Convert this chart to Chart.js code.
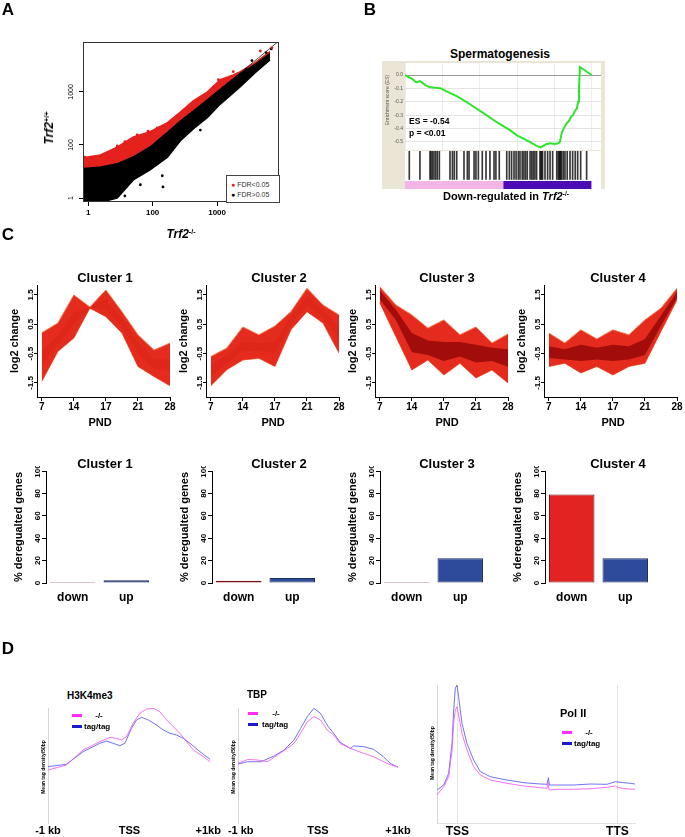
<!DOCTYPE html>
<html>
<head>
<meta charset="utf-8">
<script src="https://cdn.jsdelivr.net/npm/chart.js@4.4.1/dist/chart.umd.min.js"></script>
<style>
body { margin: 0; background: #fff; }
#fig { position: relative; width: 685px; height: 837px; overflow: hidden; font-family: "Liberation Sans", Arial, sans-serif; }
#fig canvas { position: absolute; }
.t { position: absolute; white-space: nowrap; line-height: 1; z-index: 2; }
.t sup { font-size: 0.6em; vertical-align: 0.55em; line-height: 0; }
.dash { position: absolute; height: 3px; width: 10px; z-index: 2; }
</style>
</head>
<body>
<div id="fig"></div>
<script>
// ---- A: expression scatter (axis units = tick positions: 0 -> "1", 1 -> "100", 2 -> "1000")
const scatterTicks = ['1', '100', '1000'];
const bandX       = [-0.08, 0.19, 0.45, 0.70, 0.96, 1.23, 1.43, 1.63, 1.85, 2.05, 2.25, 2.36, 2.59, 2.82];
const redTop      = [0.76, 0.81, 0.96, 1.15, 1.25, 1.42, 1.62, 1.83, 2.00, 2.23, 2.32, 2.38, 2.55, 2.76];
const blackTop    = [0.57, 0.60, 0.66, 0.79, 0.98, 1.26, 1.47, 1.66, 1.87, 2.07, 2.26, 2.36, 2.55, 2.76];
const blackBottom = [-0.08, -0.08, 0.0, 0.34, 0.53, 0.77, 1.08, 1.30, 1.52, 1.77, 1.98, 2.10, 2.36, 2.60];
const redPoints = [[-0.05, 0.77], [0.06, 0.76], [0.19, 0.79], [0.31, 0.77], [0.45, 0.98], [0.57, 1.06], [0.76, 1.19],
  [0.93, 1.26], [1.07, 1.32], [1.38, 1.53], [1.54, 1.66], [1.74, 1.87], [1.94, 2.09], [2.02, 2.23], [2.25, 2.38],
  [2.67, 2.77], [2.85, 2.83]];
const blackPoints = [[1.74, 1.28], [1.15, 0.42], [1.16, 0.21], [0.99, 0.66], [1.30, 1.04], [0.81, 0.25], [0.57, 0.04],
  [2.45, 2.43], [2.54, 2.59], [2.76, 2.74], [2.84, 2.81]];

// ---- B: GSEA running enrichment score and hit positions (rank in % of list)
const esRank  = [0, 4, 6, 8, 11, 13, 16, 19, 22, 28, 35, 42, 50, 56, 60, 66.8, 70, 72.5, 74, 76, 78, 80, 82, 83, 84, 85,
  86.6, 88, 89, 90, 91, 92, 92.8, 93.2, 93.7, 100];
const esScore = [0, -0.03, -0.055, -0.045, -0.075, -0.09, -0.095, -0.098, -0.12, -0.16, -0.22, -0.285, -0.36, -0.41,
  -0.45, -0.5, -0.525, -0.54, -0.53, -0.515, -0.51, -0.515, -0.51, -0.5, -0.43, -0.4, -0.36, -0.34, -0.31, -0.3,
  -0.27, -0.25, -0.2, -0.1, 0.06, 0];
const hitRanks = [2.3, 8.0, 13.4, 13.9, 14.6, 15.5, 16.4, 17.3, 18.4, 24.1, 25.4, 26.4, 27.7, 31.6, 33.4, 34.3, 37.0,
  38.0, 39.3, 41.4, 43.4, 45.5, 47.7, 48.7, 50.5, 54.5, 55.9, 57.1, 58.4, 59.5, 60.7, 61.6, 62.8, 63.7, 64.6, 65.5,
  67.0, 67.9, 68.7, 69.6, 70.5, 72.3, 72.8, 73.2, 73.7, 75.0, 76.4, 77.7, 79.1, 81.3, 82.1, 82.7, 83.0, 83.4, 83.9,
  84.8, 85.7, 86.9, 88.4, 89.8, 91.2, 92.5, 94.1, 97.3];
const splitRank = 52.6;

// ---- C: cluster profiles (9 time points) and % deregulated genes
const pndTicks = [0, 2, 4, 6, 8];
const pndLabels = ['7', '14', '17', '21', '28'];
const c1Upper  = [0.21, 0.54, 1.5, 1.09, 1.67, 0.93, 0.14, -0.38, -0.14];
const c1Lower  = [-1.45, -0.43, 0.03, 1.05, 0.76, 0.2, -0.94, -1.28, -1.6];
const c1CoreUp = [-0.4, 0.1, 0.9, 1.08, 1.35, 0.7, -0.1, -0.7, -0.7];
const c1CoreLo = [-0.9, -0.2, 0.5, 1.06, 1.0, 0.45, -0.5, -1.0, -1.1];
const c2Upper  = [-0.6, -0.31, 0.41, 0.14, 0.44, 0.93, 1.73, 1.16, 0.82];
const c2Lower  = [-1.6, -1.05, -0.72, -0.66, -0.94, 0.31, 0.93, 0.54, -0.48];
const c2CoreUp = [-0.9, -0.55, -0.1, -0.15, -0.1, 0.75, 1.45, 0.95, 0.45];
const c2CoreLo = [-1.3, -0.85, -0.4, -0.4, -0.5, 0.5, 1.15, 0.75, 0.0];
const c3Upper  = [1.78, 1.16, 0.82, 0.37, 0.65, 0.14, 0.41, -0.14, 0.17];
const c3Lower  = [1.23, 0.08, -1.06, -0.72, -1.23, -0.83, -1.33, -1.06, -1.5];
const c3CoreUp = [1.65, 1.0, 0.2, -0.05, -0.1, -0.1, -0.2, -0.3, -0.35];
const c3CoreLo = [1.35, 0.65, -0.45, -0.55, -0.75, -0.6, -0.8, -0.75, -0.95];
const c4Upper  = [0.2, -0.14, 0.31, 0.0, 0.31, 0.14, 0.65, 1.05, 1.73];
const c4Lower  = [-0.94, -0.83, -1.16, -0.94, -1.23, -0.94, -0.83, 0.25, 1.33];
const c4CoreUp = [-0.25, -0.35, -0.2, -0.3, -0.2, -0.25, 0.0, 0.8, 1.6];
const c4CoreLo = [-0.65, -0.7, -0.75, -0.7, -0.75, -0.7, -0.55, 0.45, 1.4];
const clusterNames = ['Cluster 1', 'Cluster 2', 'Cluster 3', 'Cluster 4'];
const dirLabels = ['down', 'up'];
const pctDown = [0.5, 2, 0.5, 79];
const pctUp   = [2.5, 4.5, 22, 22];

// ---- D: tag density profiles
const h3KoX  = [-1000, -775, -570, -365, -242, -160, -98, -37, 45, 127, 209, 291, 373, 455, 537, 619, 701, 783, 906, 988];
const h3KoY  = [4.6, 5.04, 6.35, 7.07, 7.45, 7.36, 7.22, 7.51, 8.67, 9.54, 9.91, 9.97, 9.68, 8.96, 8.38, 7.8, 7.07, 6.35, 5.77, 5.33];
const h3TagX = [-1000, -775, -570, -365, -283, -201, -119, -57, 25, 86, 148, 230, 332, 414, 496, 578, 660, 742, 865, 988];
const h3TagY = [4.9, 5.1, 6.2, 6.93, 7.13, 6.93, 6.72, 6.93, 8.23, 8.96, 9.19, 8.96, 8.52, 8.09, 7.8, 7.65, 7.36, 6.93, 6.2, 5.54];
const tbpKoX  = [-1000, -880, -756, -631, -507, -383, -300, -217, -134, -52, 31, 114, 196, 280, 404, 569, 693, 860, 1004];
const tbpKoY  = [5.19, 5.52, 5.48, 5.33, 5.91, 6.49, 6.93, 7.8, 8.81, 9.25, 8.96, 8.09, 7.65, 6.9, 6.49, 6.06, 5.77, 5.19, 4.84];
const tbpTagX = [-1000, -880, -714, -549, -424, -300, -217, -134, -52, 31, 114, 196, 280, 404, 445, 569, 693, 818, 901, 1004];
const tbpTagY = [5.13, 5.33, 5.33, 5.83, 6.35, 7.22, 8.23, 9.25, 9.97, 9.54, 8.52, 7.8, 7.0, 6.49, 6.7, 6.64, 6.41, 5.77, 5.19, 4.84];
const polKoX  = [-12.7, -8.5, -5.4, -3.3, -2.3, -1.25, -0.2, 0.8, 2.9, 6.0, 10.2, 14.4, 20.6, 31, 41.5, 51.9, 56, 56.7, 57.3,
  62.3, 72.7, 83.1, 93.5, 98.75, 99.8, 104, 111];
const polKoY  = [2.8, 3.63, 4.63, 7.3, 9.97, 11.3, 11.63, 10.8, 8.97, 7.3, 5.63, 4.8, 4.3, 3.97, 3.7, 3.53, 3.47, 4.13, 3.3,
  3.37, 3.37, 3.43, 3.57, 3.7, 3.57, 3.43, 3.37];
const polTagX = [-12.7, -8.5, -5.4, -3.3, -2.3, -1.25, -0.2, 0.8, 2.9, 6.0, 10.2, 14.4, 20.6, 31, 41.5, 51.9, 56, 56.9, 57.5,
  62.3, 72.7, 83.1, 93.5, 98.75, 104, 108, 111];
const polTagY = [3.3, 3.8, 4.97, 7.97, 11.3, 13.47, 13.8, 12.63, 9.97, 7.97, 6.3, 5.13, 4.63, 4.3, 4.03, 3.9, 3.87, 4.53, 3.8,
  3.8, 3.8, 3.9, 3.87, 4.13, 4.03, 3.97, 3.9];

const FONT = '"Liberation Sans", Arial, sans-serif';
Chart.defaults.font.family = FONT;
Chart.defaults.color = '#000';
Chart.defaults.animation = false;
Chart.defaults.responsive = false;
Chart.defaults.events = [];
Chart.defaults.plugins.legend.display = false;
Chart.defaults.plugins.tooltip.enabled = false;

// R-style vertical y tick labels
const sideTicks = {
  id: 'sideTicks',
  afterDraw(chart, args, o) {
    if (!o.font) return;
    const s = chart.scales.y, ctx = chart.ctx;
    ctx.save();
    ctx.font = o.font;
    ctx.fillStyle = '#000';
    ctx.textAlign = 'center';
    ctx.textBaseline = 'alphabetic';
    s.ticks.forEach(t => {
      ctx.save();
      ctx.translate(s.right - o.gap, s.getPixelForValue(t.value));
      ctx.rotate(-Math.PI / 2);
      ctx.fillText(t.label, 0, 0);
      ctx.restore();
    });
    ctx.restore();
  }
};
const frame = {
  id: 'frame',
  afterDraw(chart, args, o) {
    if (!o.color) return;
    const { left, top, right, bottom } = chart.chartArea, ctx = chart.ctx;
    ctx.save();
    ctx.strokeStyle = o.color;
    ctx.lineWidth = 1;
    ctx.strokeRect(left + 0.5, top + 0.5, right - left - 1, bottom - top - 1);
    ctx.restore();
  }
};
const paper = {
  id: 'paper',
  beforeDraw(chart, args, o) {
    if (!o.color) return;
    const { left, top, right, bottom } = chart.chartArea, ctx = chart.ctx;
    ctx.save();
    ctx.fillStyle = o.color;
    ctx.fillRect(left, top, right - left, bottom - top);
    ctx.restore();
  }
};
Chart.register(sideTicks, frame, paper);

const fig = document.getElementById('fig');

function T(html, x, y, css, opt) {
  opt = opt || {};
  const d = document.createElement('div');
  d.className = 't';
  d.innerHTML = html;
  d.style.cssText = 'left:' + x + 'px;top:' + y + 'px;' + (css || '');
  let tr = opt.left ? 'translate(0,-50%)' : 'translate(-50%,-50%)';
  if (opt.rot) tr += ' rotate(' + opt.rot + 'deg)';
  d.style.transform = tr;
  fig.appendChild(d);
}
function dash(x, y, w, color) {
  const d = document.createElement('div');
  d.className = 'dash';
  d.style.cssText = 'left:' + x + 'px;top:' + y + 'px;width:' + w + 'px;background:' + color;
  fig.appendChild(d);
}
function box(x, y, w, h, css) {
  const d = document.createElement('div');
  d.style.cssText = 'position:absolute;left:' + x + 'px;top:' + y + 'px;width:' + w + 'px;height:' + h + 'px;' + css;
  fig.appendChild(d);
}
function C(x, y, w, h, cfg) {
  const c = document.createElement('canvas');
  c.width = w;
  c.height = h;
  c.style.left = x + 'px';
  c.style.top = y + 'px';
  fig.appendChild(c);
  return new Chart(c, cfg);
}
const xy = (xs, ys) => xs.map((x, i) => ({ x, y: ys[i] }));
const series = ys => ys.map((y, i) => ({ x: i, y }));
const setTicks = vals => s => { s.ticks = vals.map(v => ({ value: v })); };
const fitX = h => s => { s.height = h; s.paddingLeft = 0; s.paddingRight = 0; };
const fitY = w => s => { s.width = w; s.paddingTop = 0; s.paddingBottom = 0; };
const line = (data, color, width) => ({ data, borderColor: color, borderWidth: width, pointRadius: 0, fill: false });

// ================= A =================
C(20, 30, 270, 200, {
  type: 'line',
  data: {
    datasets: [
      { data: redPoints.map(p => ({ x: p[0], y: p[1] })), showLine: false, pointRadius: 1.4,
        pointBackgroundColor: '#e41a1c', pointBorderWidth: 0 },
      { data: blackPoints.map(p => ({ x: p[0], y: p[1] })), showLine: false, pointRadius: 1.4,
        pointBackgroundColor: '#000', pointBorderWidth: 0 },
      line([{ x: -0.08, y: -0.08 }, { x: 2.96, y: 2.96 }], '#000', 0.7),
      { data: xy(bandX, redTop), fill: '+1', backgroundColor: '#e5211d', borderColor: '#e5211d', borderWidth: 1.5, pointRadius: 0 },
      { data: xy(bandX, blackTop), fill: '+1', backgroundColor: '#000', borderColor: '#000', borderWidth: 1, pointRadius: 0 },
      line(xy(bandX, blackBottom), '#000', 1.5)
    ]
  },
  options: {
    layout: { padding: { top: 12, right: 11 } },
    scales: {
      x: {
        type: 'linear', min: -0.08, max: 2.96,
        afterBuildTicks: setTicks([0, 1, 2]), afterFit: fitX(28),
        ticks: { callback: (v, i) => scatterTicks[i], font: { size: 8, weight: 'bold' }, padding: 2, maxRotation: 0 },
        grid: { drawOnChartArea: false, tickLength: 4, color: '#000' }, border: { display: false }
      },
      y: {
        type: 'linear', min: -0.075, max: 2.94,
        afterBuildTicks: setTicks([0, 1, 2]), afterFit: fitY(63),
        ticks: { display: false, callback: (v, i) => scatterTicks[i] },
        grid: { drawOnChartArea: false, tickLength: 4, color: '#000' }, border: { display: false }
      }
    },
    plugins: { frame: { color: '#333' }, sideTicks: { font: '7px ' + FONT, gap: 10 } }
  }
});
box(226, 175, 52, 26, 'border:1px solid #444;background:#fff;z-index:1');
T('<span style="color:#e41a1c">&#9679;</span> FDR&lt;0.05', 231, 184, 'font:7px ' + FONT + ';color:#333', { left: true });
T('<span style="color:#000">&#9679;</span> FDR&gt;0.05', 231, 194, 'font:7px ' + FONT + ';color:#333', { left: true });
T('<i>Trf2</i><sup>+/+</sup>', 49, 128, 'font:bold 12px ' + FONT, { rot: -90 });
T('<i>Trf2</i><sup>-/-</sup>', 181, 234, 'font:bold 12px ' + FONT);

// ================= B =================
box(382, 61, 223, 128, 'background:#ebe5d5');
C(382, 61, 223, 90, {
  type: 'line',
  data: { datasets: [line(xy(esRank, esScore), '#2de52d', 2)] },
  options: {
    layout: { padding: { top: 2, right: 4, bottom: 1 } },
    scales: {
      x: {
        type: 'linear', min: 0, max: 105, afterBuildTicks: setTicks([0, 20, 40, 60, 80, 100]), afterFit: fitX(0),
        ticks: { display: false }, grid: { color: '#ededed', drawTicks: false }, border: { display: false }
      },
      y: {
        min: -0.56, max: 0.09, afterBuildTicks: setTicks([0, -0.1, -0.2, -0.3, -0.4, -0.5]), afterFit: fitY(23),
        ticks: { font: { size: 5 }, color: '#555', padding: 2, callback: v => v.toFixed(1) },
        grid: { color: c => (c.tick && c.tick.value === 0) ? '#9a9a9a' : '#e4e4e4', drawTicks: false },
        border: { display: false }
      }
    },
    plugins: { paper: { color: '#fff' } }
  }
});
C(382, 150, 223, 39, {
  type: 'bar',
  data: {
    datasets: [
      { type: 'line', data: [{ x: 0, y: 0.21 }, { x: splitRank, y: 0.21 }], fill: 'start', backgroundColor: '#f3b5e6', borderWidth: 0, pointRadius: 0 },
      { type: 'line', data: [{ x: splitRank, y: 0.21 }, { x: 100, y: 0.21 }], fill: 'start', backgroundColor: '#4c0cb4', borderWidth: 0, pointRadius: 0 },
      { data: hitRanks.map(r => ({ x: r, y: [0.25, 1] })), backgroundColor: 'rgba(20,20,20,0.85)', barThickness: 1, grouped: false }
    ]
  },
  options: {
    layout: { padding: { left: 23, right: 4, top: 1 } },
    scales: {
      x: { type: 'linear', min: 0, max: 105, display: false, offset: false },
      y: { min: 0, max: 1, display: false }
    },
    plugins: { paper: { color: '#fff' } }
  }
});
T('Spermatogenesis', 500, 54, 'font:bold 12px ' + FONT);
T('ES = -0.54', 409, 121, 'font:bold 8.5px ' + FONT, { left: true });
T('p = &lt;0.01', 409, 133, 'font:bold 8.5px ' + FONT, { left: true });
T('Enrichment score (ES)', 387, 100, 'font:5px ' + FONT + ';color:#555', { rot: -90 });
T('Down-regulated in <i>Trf2</i><sup>-/-</sup>', 506, 196, 'font:bold 11px ' + FONT);

// ================= C =================
const profiles = [
  [c1Upper, c1Lower, c1CoreUp, c1CoreLo],
  [c2Upper, c2Lower, c2CoreUp, c2CoreLo],
  [c3Upper, c3Lower, c3CoreUp, c3CoreLo],
  [c4Upper, c4Lower, c4CoreUp, c4CoreLo]
];
const lineX0 = [42, 211, 380, 549];
const barX0 = [45, 211, 379, 544];
const titleX = [105, 279, 447, 618];
const pndX = [100, 273, 447, 613];
const coreColors = ['rgba(205,25,15,0.3)', 'rgba(205,25,15,0.3)', 'rgba(150,8,8,0.85)', 'rgba(150,8,8,0.85)'];

profiles.forEach((p, k) => {
  const x0 = lineX0[k];
  C(x0 - 40, 280, 175, 140, {
    type: 'line',
    data: {
      datasets: [
        { data: series(p[2]), fill: '+1', backgroundColor: coreColors[k], borderWidth: 0, pointRadius: 0 },
        { data: series(p[3]), borderWidth: 0, pointRadius: 0, fill: false },
        { data: series(p[0]), fill: '+1', backgroundColor: '#e52b1d', borderColor: '#f27a4c', borderWidth: 1, pointRadius: 0 },
        line(series(p[1]), '#f27a4c', 1)
      ]
    },
    options: {
      layout: { padding: { top: 5, right: 7 } },
      scales: {
        x: {
          type: 'linear', min: -0.3, max: 8, afterBuildTicks: setTicks(pndTicks), afterFit: fitX(23),
          ticks: { callback: (v, i) => pndLabels[i], font: { size: 10, weight: 'bold' }, padding: 0, maxRotation: 0 },
          grid: { drawOnChartArea: false, tickLength: 4, color: '#000' }, border: { color: '#000' }
        },
        y: {
          min: -1.98, max: 1.84, afterBuildTicks: setTicks([1.5, 0.5, -0.5, -1.5]), afterFit: fitY(35),
          ticks: { display: false, callback: v => String(v) },
          grid: { drawOnChartArea: false, tickLength: 3, color: '#000' }, border: { color: '#000' }
        }
      },
      plugins: { sideTicks: { font: 'bold 8px ' + FONT, gap: 4 } }
    }
  });
  T(clusterNames[k], titleX[k], 277, 'font:bold 13px ' + FONT);
  T('PND', pndX[k], 422, 'font:bold 11px ' + FONT);
  T('log2 change', x0 - 28, 341, 'font:bold 11px ' + FONT, { rot: -90 });

  const b0 = barX0[k];
  C(b0 - 45, 466, 155, 140, {
    type: 'bar',
    data: {
      labels: dirLabels,
      datasets: [{
        data: [pctDown[k], pctUp[k]],
        backgroundColor: ['#e32222', '#2e4b9b'], borderColor: ['#7a1515', '#1b2c5e'], borderWidth: 1,
        borderSkipped: false, minBarLength: 1, barPercentage: 0.85, categoryPercentage: 1
      }]
    },
    options: {
      layout: { padding: { top: 5, right: 2 } },
      scales: {
        x: {
          afterFit: fitX(23), grid: { display: false, drawTicks: false }, border: { display: false },
          ticks: { font: { size: 12, weight: 'bold' }, padding: 7 }
        },
        y: {
          min: 0, max: 100, afterBuildTicks: setTicks([0, 20, 40, 60, 80, 100]), afterFit: fitY(46),
          ticks: { display: false, callback: v => String(v) },
          grid: { drawOnChartArea: false, tickLength: 4, color: '#000' }, border: { color: '#000' }
        }
      },
      plugins: { sideTicks: { font: 'bold 8px ' + FONT, gap: 6 } }
    }
  });
  T(clusterNames[k], titleX[k], 463, 'font:bold 13px ' + FONT);
  T('% deregualted genes', b0 - 27, 527, 'font:bold 11px ' + FONT, { rot: -90 });
});

// ================= D =================
const KO = '#f062f0', TAG = '#6262f2';
function profile(x, y, w, h, padT, padR, xr, ymax, ticks, labels, fontSize, sets, gridColor) {
  C(x, y, w, h, {
    type: 'line',
    data: { datasets: sets },
    options: {
      layout: { padding: { top: padT, right: padR } },
      scales: {
        x: {
          type: 'linear', min: xr[0], max: xr[1], afterBuildTicks: setTicks(ticks), afterFit: fitX(14),
          ticks: { callback: (v, i) => labels[i], font: { size: fontSize, weight: 'bold' }, padding: 1, maxRotation: 0 },
          grid: { display: !!gridColor, color: gridColor || '#fff', drawTicks: false },
          border: { display: !!gridColor, color: '#e2e2e2' }
        },
        y: {
          min: 0, max: ymax, afterFit: fitY(20), ticks: { display: false },
          grid: { display: false, drawTicks: false }, border: { color: '#d6d6d6' }
        }
      }
    }
  });
}
// en-spaces nudge the two touching edge labels apart
profile(28, 703, 205, 134, 5, 22, [-1000, 1000], 10, [-1000, 0, 1000], ['-1 kb', 'TSS', '+1kb\u2002'], 11,
  [line(xy(h3KoX, h3KoY), KO, 0.9), line(xy(h3TagX, h3TagY), TAG, 0.9)]);
profile(218, 703, 201, 134, 5, 21, [-1000, 1000], 10, [-1000, 0, 1000], ['\u2002-1 kb', 'TSS', '+1kb'], 11,
  [line(xy(tbpKoX, tbpKoY), KO, 0.9), line(xy(tbpTagX, tbpTagY), TAG, 0.9)]);
profile(417, 680, 238, 157, 5, 20, [-12.7, 111], 13.8, [0, 100], ['TSS', 'TTS'], 12,
  [line(xy(polKoX, polKoY), KO, 0.9), line(xy(polTagX, polTagY), TAG, 0.9)], '#e4e4e4');

T('H3K4me3', 67, 695, 'font:bold 10px ' + FONT, { left: true });
T('TBP', 247, 694, 'font:bold 10px ' + FONT, { left: true });
T('Pol II', 560, 713, 'font:bold 11px ' + FONT, { left: true });
T('Mean tag density/50bp', 43, 767, 'font:bold 5px ' + FONT, { rot: -90 });
T('Mean tag density/50bp', 233, 767, 'font:bold 5px ' + FONT, { rot: -90 });
T('Mean tag density/50bp', 432, 753, 'font:bold 5px ' + FONT, { rot: -90 });
dash(72, 714, 10, '#ff2bff'); T('-/-', 99, 715, 'font:bold 8px ' + FONT);
dash(72, 725, 10, '#1a1acc'); T('tag/tag', 84, 726, 'font:bold 8px ' + FONT, { left: true });
dash(248, 712, 10, '#ff2bff'); T('-/-', 276, 713, 'font:bold 8px ' + FONT);
dash(248, 723, 10, '#1a1acc'); T('tag/tag', 262, 724, 'font:bold 8px ' + FONT, { left: true });
dash(562, 731, 10, '#ff2bff'); T('-/-', 589, 732, 'font:bold 8px ' + FONT);
dash(562, 742, 10, '#1a1acc'); T('tag/tag', 574, 743, 'font:bold 8px ' + FONT, { left: true });

// panel letters
T('A', 8, 10, 'font:bold 17px ' + FONT);
T('B', 370, 10, 'font:bold 17px ' + FONT);
T('C', 8, 235, 'font:bold 17px ' + FONT);
T('D', 8, 649, 'font:bold 17px ' + FONT);
</script>
</body>
</html>
